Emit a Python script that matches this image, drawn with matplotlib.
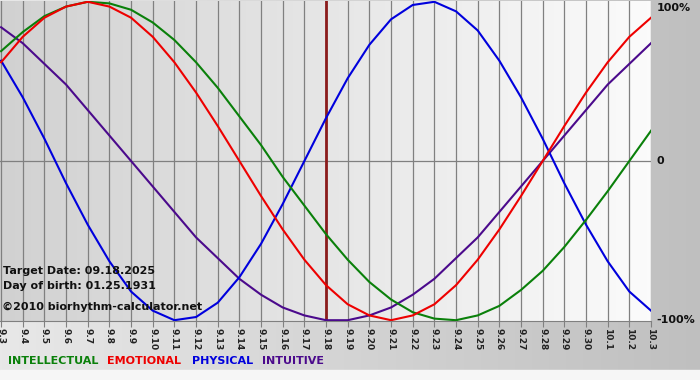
import numpy as np
import matplotlib.pyplot as plt

# days shown on the x axis
days = ['9.3', '9.4', '9.5', '9.6', '9.7', '9.8', '9.9', '9.10', '9.11', '9.12',
        '9.13', '9.14', '9.15', '9.16', '9.17', '9.18', '9.19', '9.20', '9.21',
        '9.22', '9.23', '9.24', '9.25', '9.26', '9.27', '9.28', '9.29', '9.30',
        '10.1', '10.2', '10.3']
target_idx = 15  # 9.18

physical = [0.63, 0.40, 0.14, -0.14, -0.40, -0.63, -0.82, -0.94, -1.00, -0.98,
            -0.89, -0.73, -0.52, -0.27, 0.00, 0.27, 0.52, 0.73, 0.89, 0.98,
            1.00, 0.94, 0.82, 0.63, 0.40, 0.14, -0.14, -0.40, -0.63, -0.82, -0.94]
emotional = [0.62, 0.78, 0.90, 0.97, 1.00, 0.97, 0.90, 0.78, 0.62, 0.43,
             0.22, 0.00, -0.22, -0.43, -0.62, -0.78, -0.90, -0.97, -1.00, -0.97,
             -0.90, -0.78, -0.62, -0.43, -0.22, 0.00, 0.22, 0.43, 0.62, 0.78, 0.90]
intellectual = [0.69, 0.81, 0.91, 0.97, 1.00, 0.99, 0.95, 0.87, 0.76, 0.62,
                0.46, 0.28, 0.10, -0.10, -0.28, -0.46, -0.62, -0.76, -0.87, -0.95,
                -0.99, -1.00, -0.97, -0.91, -0.81, -0.69, -0.54, -0.37, -0.19, 0.00, 0.19]
intuitive = [0.84, 0.74, 0.61, 0.48, 0.32, 0.16, 0.00, -0.16, -0.32, -0.48,
             -0.61, -0.74, -0.84, -0.92, -0.97, -1.00, -1.00, -0.97, -0.92, -0.84,
             -0.74, -0.61, -0.48, -0.32, -0.16, 0.00, 0.16, 0.32, 0.48, 0.61, 0.74]

W, H = 700, 380


def hgrad(left, right):
    g = np.linspace(left, right, 256)
    return np.dstack([np.vstack([g, g])] * 3)


fig = plt.figure(figsize=(7, 3.8), dpi=100)

# outer background gradient
bg = fig.add_axes([0, 0, 1, 1], zorder=-2)
bg.imshow(hgrad(0.91, 0.75), aspect='auto', extent=[0, 1, 0, 1])
bg.axhspan(0, 10 / H, color='#f6f6f6')
bg.set_xlim(0, 1)
bg.set_ylim(0, 1)
bg.axis('off')

ax = fig.add_axes([0, (H - 321) / H, 651 / W, 320 / H])
x = np.arange(len(days))
ax.imshow(hgrad(0.82, 0.985), aspect='auto',
          extent=[-0.05, len(days) - 1, -1.005, 1.005], zorder=0)

for xi in x:
    ax.axvline(xi, color='#808080', lw=0.9, zorder=1)
ax.axhline(0, color='#808080', lw=0.9, zorder=1)
ax.axvline(target_idx, color='#8b1c1c', lw=2, zorder=2)

ax.plot(x, intuitive, color='#4b0a8c', lw=1.5, zorder=3)
ax.plot(x, physical, color='#0000dd', lw=1.5, zorder=3)
ax.plot(x, intellectual, color='#0a800a', lw=1.5, zorder=3)
ax.plot(x, emotional, color='#ee0000', lw=1.5, zorder=3)

ax.set_xlim(-0.05, len(days) - 1)
ax.set_ylim(-1.005, 1.005)
ax.set_xticks(x)
ax.set_xticklabels(days, rotation=-90, fontsize=6.5, fontweight='bold', color='#222222')
ax.tick_params(axis='x', length=4, color='#808080', pad=1)
ax.set_yticks([])
for s in ['top', 'left', 'right']:
    ax.spines[s].set_visible(False)
ax.spines['bottom'].set_color('#808080')

for val, lab in [(0.96, '100%'), (0, '0'), (-1.0, '-100%')]:
    ax.annotate(lab, xy=(1, val), xycoords=('axes fraction', 'data'),
                xytext=(4, 0), textcoords='offset points', va='center', ha='left',
                fontsize=8, fontweight='bold', color='#111111', annotation_clip=False)

info = ['Target Date: 09.18.2025', 'Day of birth: 01.25.1931']
fig.text(3 / W, 1 - 271 / H, info[0], fontsize=8, fontweight='bold', va='center', color='#111111')
fig.text(3 / W, 1 - 286 / H, info[1], fontsize=8, fontweight='bold', va='center', color='#111111')
fig.text(2 / W, 1 - 307 / H, '\u00a92010 biorhythm-calculator.net', fontsize=8,
         fontweight='bold', va='center', color='#111111')

legend_names = ['INTELLECTUAL', 'EMOTIONAL', 'PHYSICAL', 'INTUITIVE']
legend_colors = ['#0a800a', '#ee0000', '#0000dd', '#4b0a8c']
legend_x = [8, 107, 192, 262]
for name, c, lx in zip(legend_names, legend_colors, legend_x):
    fig.text(lx / W, 1 - 361 / H, name, fontsize=8, fontweight='bold', va='center', color=c)

fig.savefig('out.png', dpi=100)
